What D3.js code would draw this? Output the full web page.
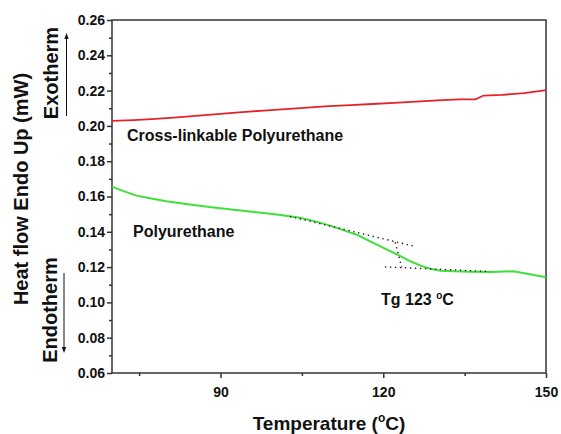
<!DOCTYPE html>
<html>
<head>
<meta charset="utf-8">
<script src="https://cdn.jsdelivr.net/npm/d3@7"></script>
<style>
  body { margin: 0; background: #fff; }
  text { font-family: "Liberation Sans", Arial, sans-serif; font-weight: bold; fill: #111; }
</style>
</head>
<body>
<div id="viz"></div>
<script>
// data
const xMajorTicks = [90, 120, 150];
const xMinorTicks = [75, 105, 135];
const yMajorTicks = [0.06, 0.08, 0.10, 0.12, 0.14, 0.16, 0.18, 0.20, 0.22, 0.24, 0.26];
const yMinorTicks = [0.07, 0.09, 0.11, 0.13, 0.15, 0.17, 0.19, 0.21, 0.23, 0.25];

const crossTemps = [70, 74, 78, 82, 86, 90, 94, 98, 102, 106, 110, 114, 118, 122, 126, 130, 134, 137, 138.5, 142, 146, 150];
const crossHeat = [0.2028, 0.2033, 0.2040, 0.2048, 0.2058, 0.2068, 0.2078, 0.2087, 0.2095, 0.2103, 0.2112, 0.2118,
  0.2124, 0.2130, 0.2137, 0.2145, 0.2150, 0.2150, 0.2172, 0.2176, 0.2186, 0.2203];

const puTemps = [70, 72, 74.5, 77, 80, 84, 88, 92, 95.4, 100, 104.7, 108, 110.5, 113, 115, 117, 119, 121, 123, 125,
  127, 128.5, 130.5, 133, 136, 140, 144, 147, 150];
const puHeat = [0.1656, 0.1632, 0.1605, 0.1590, 0.1573, 0.1556, 0.1540, 0.1527, 0.1515, 0.1500, 0.1480, 0.1455,
  0.1432, 0.1405, 0.1385, 0.1355, 0.1325, 0.1295, 0.1265, 0.1233, 0.1207, 0.1192, 0.1180, 0.1176, 0.1174,
  0.1172, 0.1177, 0.1160, 0.1143];

// Tg construction lines [temp, heat flow]
const tangentAbove = [[102.8, 0.1487], [125.9, 0.1317]];
const tangentBelow = [[120.3, 0.1201], [139.7, 0.1175]];
const tgMark = [[122.2, 0.1341], [123.4, 0.1199]];

const width = 561;
const height = 434;
const margin = { top: 20, right: 15, bottom: 61, left: 112 };

const svg = d3.select('#viz')
  .append('svg')
  .attr('width', width)
  .attr('height', height);

const x = d3.scaleLinear().domain([70, 150]).range([margin.left, width - margin.right]);
const y = d3.scaleLinear().domain([0.06, 0.26]).range([height - margin.bottom, margin.top]);

const axisColor = '#333';

// axes
const styleAxis = g => {
  g.select('.domain').remove();
  g.selectAll('.tick line').attr('stroke', axisColor).attr('stroke-width', 1.5);
  g.selectAll('.tick text').style('font-size', '14px').attr('fill', '#111');
};

svg.append('g')
  .attr('transform', `translate(0,${height - margin.bottom})`)
  .call(d3.axisBottom(x).tickValues(xMajorTicks).tickSize(5).tickPadding(9).tickFormat(d3.format('d')))
  .call(styleAxis);

svg.append('g')
  .attr('transform', `translate(0,${height - margin.bottom})`)
  .call(d3.axisBottom(x).tickValues(xMinorTicks).tickSize(3).tickFormat(''))
  .call(styleAxis);

svg.append('g')
  .attr('transform', `translate(${margin.left},0)`)
  .call(d3.axisLeft(y).tickValues(yMajorTicks).tickSize(5).tickPadding(2).tickFormat(d3.format('.2f')))
  .call(styleAxis);

svg.append('g')
  .attr('transform', `translate(${margin.left},0)`)
  .call(d3.axisLeft(y).tickValues(yMinorTicks).tickSize(3).tickFormat(''))
  .call(styleAxis);

// frame
svg.append('rect')
  .attr('x', x(70))
  .attr('y', y(0.26))
  .attr('width', x(150) - x(70))
  .attr('height', y(0.06) - y(0.26))
  .attr('fill', 'none')
  .attr('stroke', axisColor)
  .attr('stroke-width', 1.5);

// curves
const line = d3.line()
  .x(d => x(d[0]))
  .y(d => y(d[1]));

svg.append('path')
  .datum(crossTemps.map((t, i) => [t, crossHeat[i]]))
  .attr('d', line)
  .attr('fill', 'none')
  .attr('stroke', '#e3222a')
  .attr('stroke-width', 1.8);

svg.append('path')
  .datum(puTemps.map((t, i) => [t, puHeat[i]]))
  .attr('d', line)
  .attr('fill', 'none')
  .attr('stroke', '#3fe03c')
  .attr('stroke-width', 2);

svg.selectAll('.construct')
  .data([tangentAbove, tangentBelow, tgMark])
  .enter()
  .append('path')
  .attr('d', line)
  .attr('fill', 'none')
  .attr('stroke', '#222')
  .attr('stroke-width', 1.4)
  .attr('stroke-dasharray', '1.4,3.6');

// labels inside plot
svg.append('text')
  .attr('x', 127)
  .attr('y', 141)
  .style('font-size', '16px')
  .text('Cross-linkable Polyurethane');

svg.append('text')
  .attr('x', 133)
  .attr('y', 237)
  .style('font-size', '16px')
  .text('Polyurethane');

const tg = svg.append('text')
  .attr('x', 381)
  .attr('y', 305)
  .style('font-size', '16px');
tg.append('tspan').text('Tg 123 ');
tg.append('tspan').attr('dy', -6).style('font-size', '10px').text('o');
tg.append('tspan').attr('dy', 6).text('C');

// axis titles
const xt = svg.append('text')
  .attr('x', (x(70) + x(150)) / 2)
  .attr('y', 430)
  .attr('text-anchor', 'middle')
  .style('font-size', '19px');
xt.append('tspan').text('Temperature (');
xt.append('tspan').attr('dy', -8).style('font-size', '12px').text('o');
xt.append('tspan').attr('dy', 8).text('C)');

svg.append('text')
  .attr('transform', 'translate(28,189) rotate(-90)')
  .attr('text-anchor', 'middle')
  .style('font-size', '20px')
  .text('Heat flow Endo Up (mW)');

svg.append('text')
  .attr('transform', 'translate(58,73) rotate(-90)')
  .attr('text-anchor', 'middle')
  .style('font-size', '20px')
  .text('Exotherm');

svg.append('text')
  .attr('transform', 'translate(57,310) rotate(-90)')
  .attr('text-anchor', 'middle')
  .style('font-size', '20px')
  .text('Endotherm');

// direction arrows
const arrow = (ax, y0, y1) => {
  const dir = y1 < y0 ? 1 : -1;
  svg.append('line')
    .attr('x1', ax).attr('x2', ax)
    .attr('y1', y0).attr('y2', y1 + dir * 3)
    .attr('stroke', '#111')
    .attr('stroke-width', 1);
  svg.append('path')
    .attr('d', `M${ax},${y1} L${ax - 2.2},${y1 + dir * 6} L${ax + 2.2},${y1 + dir * 6} Z`)
    .attr('fill', '#111');
};
arrow(66.5, 116, 33);
arrow(64, 273, 353);
</script>
</body>
</html>
